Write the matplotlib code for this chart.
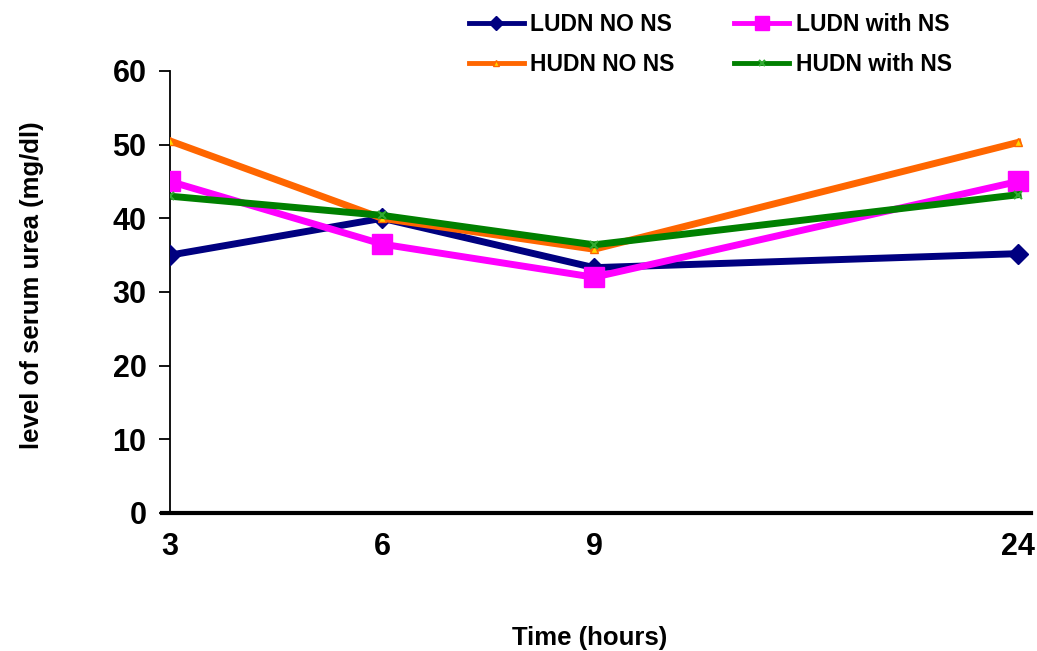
import matplotlib
matplotlib.use("Agg")
from matplotlib import pyplot as plt

plt.rcParams['font.family'] = ['Liberation Sans', 'DejaVu Sans']
plt.rcParams['font.weight'] = 'bold'

# time points (hours); Excel-like category axis with an empty slot before 24
hours = ['3', '6', '9', '24']
slots = [0, 1, 2, 4]

ludn_no_ns = [35.0, 40.0, 33.3, 35.2]
ludn_with_ns = [45.0, 36.5, 32.0, 45.0]
hudn_no_ns = [50.5, 40.0, 35.8, 50.3]
hudn_with_ns = [43.0, 40.4, 36.4, 43.2]

fig = plt.figure(figsize=(10.37, 6.51), dpi=100)
ax = fig.add_axes([0.164, 0.212, 0.830, 0.679])

l1, = ax.plot(slots, ludn_no_ns, color='#000080', lw=5, marker='D', ms=10,
              mfc='#000080', mec='#000080', label='LUDN NO NS', zorder=3)
l2, = ax.plot(slots, ludn_with_ns, color='#FF00FF', lw=5, marker='s', ms=14,
              mfc='#FF00FF', mec='#FF00FF', label='LUDN with NS', zorder=3)
l3, = ax.plot(slots, hudn_no_ns, color='#FF6600', lw=5, marker='^', ms=6,
              mfc='#FFD700', mec='#FF6600', label='HUDN NO NS', zorder=4)
l4, = ax.plot(slots, hudn_with_ns, color='#008000', lw=5, marker='x', ms=6,
              mew=1.5, mec='#33AA33', label='HUDN with NS', zorder=5)

ax.set_xlim(0, 4.06)
ax.set_ylim(0, 60)
ax.set_yticks(range(0, 61, 10))
ax.set_xticks(slots)
ax.set_xticklabels(hours)

for side in ['top', 'right']:
    ax.spines[side].set_visible(False)
ax.spines['left'].set_linewidth(1.3)
ax.spines['bottom'].set_linewidth(3)
ax.spines['bottom'].set_bounds(-0.04, 4.06)
ax.spines['bottom'].set_zorder(6)

ax.tick_params(axis='y', direction='out', length=8, width=1.3, labelsize=22, pad=9)
ax.tick_params(axis='x', length=0, labelsize=22, pad=14)
for t in ax.get_xticklabels() + ax.get_yticklabels():
    t.set_fontweight('bold')

ax.set_ylabel('level of serum urea (mg/dl)', fontsize=18.5, fontweight='bold')
ax.yaxis.set_label_coords(-0.146, 0.515)
ax.set_xlabel('Time (hours)', fontsize=18.5, fontweight='bold')
ax.xaxis.set_label_coords(0.487, -0.255)

leg = fig.legend(handles=[l1, l3, l2, l4], ncol=2, loc='upper left',
                 bbox_to_anchor=(0.432, 1.012), frameon=False,
                 prop={'weight': 'bold', 'size': 16.5}, handlelength=2.4,
                 columnspacing=2.6, handletextpad=0.3, labelspacing=0.75)
for line in leg.get_lines():
    line.set_linewidth(3.5)
    line.set_markersize(line.get_markersize() * 0.75)

fig.savefig('out.png', dpi=100)
